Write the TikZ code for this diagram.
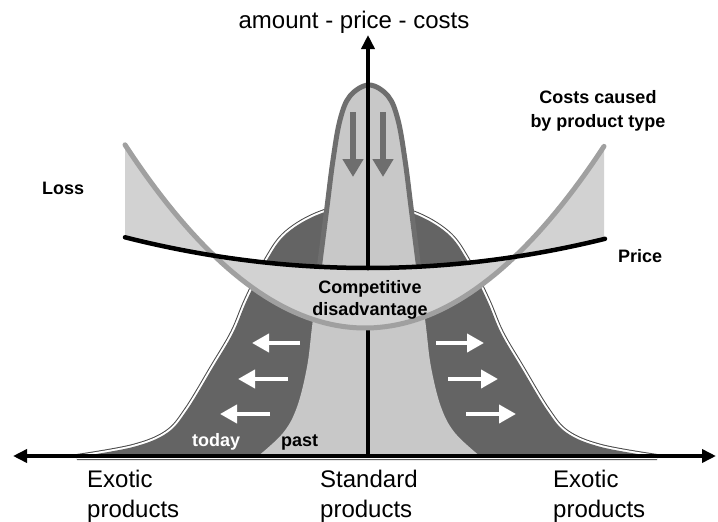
\documentclass[tikz,border=0pt]{standalone}
\usepackage{fontspec}
\setmainfont{Liberation Sans}
\usepackage{tikz}
\usetikzlibrary{arrows.meta}
\definecolor{PDToday}{HTML}{646464}
\definecolor{PDEdge}{HTML}{4A4A4A}
\definecolor{PDPast}{HTML}{C8C8C8}
\definecolor{PDPeak}{HTML}{6E6E6E}
\definecolor{PDBand}{HTML}{D2D2D2}
\definecolor{PDCost}{HTML}{A0A0A0}
\tikzset{
  pdaxis/.style={line width=4pt,draw=black},
  pdtip/.style={-{Triangle[length=14pt,width=13pt]}},
  pdboth/.style={{Triangle[length=14pt,width=13pt]}-{Triangle[length=14pt,width=13pt]}},
  pddrop/.style={line width=6pt,draw=PDPeak,-{Triangle[length=18pt,width=20pt]}},
  pdshift/.style={line width=4pt,draw=white,-{Triangle[length=17pt,width=18pt]}},
  pdlabel/.style={inner sep=0pt,font=\fontsize{24}{30}\selectfont,align=left},
  pdbold/.style={inner sep=0pt,font=\fontsize{18}{22}\selectfont\bfseries,align=center},
}

\begin{document}
\begin{tikzpicture}[x=1pt,y=-1pt]
  \useasboundingbox (0,0) rectangle (718,522);

  \coordinate (origin) at (368,456);
  \coordinate (ytop) at (368,35);
  \coordinate (xleft) at (13,456);
  \coordinate (xright) at (716,456);

  % wide spread of products today
  \fill[PDToday,preaction={draw=PDEdge,line width=6pt},preaction={draw=white,line width=4pt}]
    plot[smooth,tension=0.6] coordinates {
      (77,457) (133,447) (167,433) (187,410) (213,367) (233,333) (247,300)
      (267,260) (287,233) (322,213) (367,204) (412,213) (447,233) (467,260)
      (487,300) (501,333) (521,367) (547,410) (567,433) (601,447) (657,457)}
    -- cycle;

  % narrow spread of the past
  \fill[PDPast] plot[smooth,tension=0.6] coordinates {
      (257,457) (283,433) (297,407) (307,367) (312,327) (319,270) (327,207)
      (333,160) (340,120) (350,96) (369,85) (388,96) (398,120) (405,160)
      (411,207) (419,270) (426,327) (431,367) (441,407) (455,433) (481,457)}
    -- cycle;
  \draw[PDPeak,line width=5pt] plot[smooth,tension=0.6] coordinates {
      (319,270) (327,207) (333,160) (340,120) (350,96) (369,85) (388,96)
      (398,120) (405,160) (411,207) (419,270)};

  \coordinate (dropLs) at (353,112);
  \coordinate (dropLe) at (353,177);
  \coordinate (dropRs) at (383,112);
  \coordinate (dropRe) at (383,177);
  \draw[pddrop] (dropLs) -- (dropLe);
  \draw[pddrop] (dropRs) -- (dropRe);

  \draw[pdaxis,pdtip] (origin) -- (ytop);

  % costs against price
  \fill[PDBand] plot[domain=125:604,samples=80] (\x,{328-31.8*((\x-365)/100)^2})
    -- plot[domain=604:125,samples=80] (\x,{268-5.2*((\x-368)/100)^2}) -- cycle;
  \draw[PDCost,line width=5pt,line cap=round]
    plot[domain=125:604,samples=80] (\x,{328-31.8*((\x-365)/100)^2});
  \draw[black,line width=4.5pt,line cap=round]
    plot[domain=125:605,samples=80] (\x,{268-5.2*((\x-368)/100)^2});

  \foreach \i/\y/\xa/\xb in {1/343/300/252,2/379/288/238,3/414/270/220} {
    \coordinate (wl\i s) at (\xa,\y);
    \coordinate (wl\i e) at (\xb,\y);
    \coordinate (wr\i s) at ({736-\xa},\y);
    \coordinate (wr\i e) at ({736-\xb},\y);
    \draw[pdshift] (wl\i s) -- (wl\i e);
    \draw[pdshift] (wr\i s) -- (wr\i e);
  }

  \draw[pdaxis,pdboth] (xleft) -- (xright);

  \node[pdlabel,anchor=base] (ylabel) at (354,28) {amount  -  price  -  costs};
  \node[pdbold,anchor=north,font=\fontsize{18}{24}\selectfont\bfseries] (costs) at (598,90)
    {Costs caused\\by product type};
  \node[pdbold,anchor=base west] (loss) at (42,194) {Loss};
  \node[pdbold,anchor=base west] (price) at (618,262) {Price};
  \node[pdbold,anchor=north] (disadv) at (370,280) {Competitive\\disadvantage};
  \node[pdbold,anchor=base west,text=white] (today) at (192,446) {today};
  \node[pdbold,anchor=base west] (past) at (281,446) {past};
  \node[pdlabel,anchor=north west] (exoticL) at (87,470) {Exotic\\products};
  \node[pdlabel,anchor=north west] (standard) at (320,470) {Standard\\products};
  \node[pdlabel,anchor=north west] (exoticR) at (553,470) {Exotic\\products};
\end{tikzpicture}
\end{document}
